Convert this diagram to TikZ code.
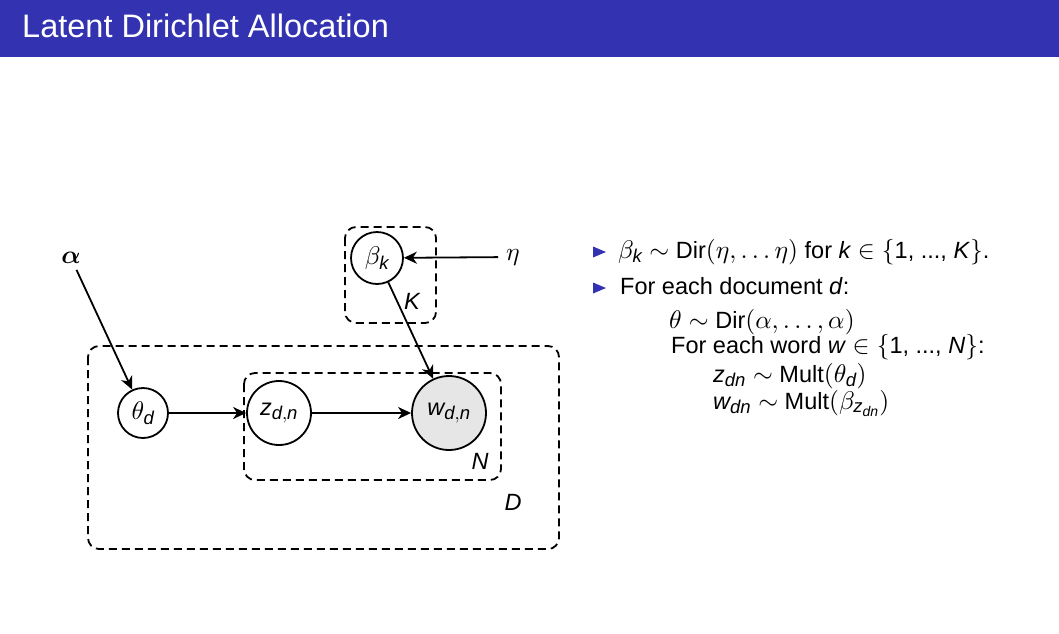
\RequirePackage{fix-cm}
\documentclass[tikz,border=0pt]{standalone}
\usepackage{amsmath}
\usepackage{bm}
\usepackage{fontspec}
\setmainfont{Liberation Sans}
\usetikzlibrary{arrows.meta}
% scalable Computer Modern math at any size
\DeclareFontShape{OML}{cmm}{m}{it}{<->cmmi10}{\skewchar\font'177}
\DeclareFontShape{OML}{cmm}{b}{it}{<->cmmib10}{\skewchar\font'177}
\DeclareFontShape{OMS}{cmsy}{m}{n}{<->cmsy10}{\skewchar\font'60}
\DeclareFontShape{OMX}{cmex}{m}{n}{<->cmex10}{}
\DeclareFontShape{OT1}{cmr}{m}{n}{<->cmr10}{}
\DeclareMathSizes{23.5}{25.5}{18.5}{14}
\definecolor{structblue}{RGB}{51,51,178}
\definecolor{obsgray}{RGB}{230,230,230}
% italic sans letters for variables inside math
\newcommand{\vi}[1]{\textit{#1}}
\tikzset{
  every node/.style={font=\fontsize{23.5}{28}\selectfont},
  latent/.style={circle, draw, line width=1.8pt, inner sep=0pt, fill=white},
  observed/.style={latent, fill=obsgray},
  plate/.style={draw, line width=1.8pt, dash pattern=on 8pt off 5pt, rounded corners=11pt},
  edge/.style={line width=1.8pt, -{Stealth[length=13pt, width=12pt, inset=4pt]}},
  platelabel/.style={font=\fontsize{23.5}{28}\selectfont\itshape},
  bodytext/.style={anchor=base west, inner sep=0pt},
  bulletmark/.style={fill=structblue, draw=none}
}
\begin{document}
\begin{tikzpicture}[x=1pt, y=-1pt]
  \useasboundingbox (0,0) rectangle (1059,633);
  \fill[white] (0,0) rectangle (1059,633);

  % title bar
  \fill[structblue] (0,0) rectangle (1059,57);
  \node[anchor=base west, inner sep=0pt, text=white, font=\fontsize{32.5}{38}\selectfont] (title) at (22,37) {Latent Dirichlet Allocation};

  % plates
  \draw[plate] (345,227) rectangle (436,323);
  \draw[plate] (244,373) rectangle (501,480);
  \draw[plate] (88,346) rectangle (559,549);
  \node[platelabel] (Klab) at (412,301) {K};
  \node[platelabel] (Nlab) at (480,461) {N};
  \node[platelabel] (Dlab) at (513,502) {D};

  % variables
  \node[latent, minimum size=50pt] (theta) at (143,413) {$\theta_{\vi{d}}$};
  \node[latent, minimum size=64pt] (z) at (279,413) {$\vi{z}_{\vi{d},\vi{n}}$};
  \node[observed, minimum size=74pt] (w) at (449,413) {$\vi{w}_{\vi{d},\vi{n}}$};
  \node[latent, minimum size=52pt] (beta) at (377,258) {$\beta_{\vi{k}}$};
  \node[inner sep=6pt] (alpha) at (71,258) {$\bm{\alpha}$};
  \node[inner sep=8pt] (eta) at (513,257) {$\eta$};

  % dependencies
  \draw[edge] (alpha) -- (theta);
  \draw[edge] (theta) -- (z);
  \draw[edge] (z) -- (w);
  \draw[edge] (eta) -- (beta);
  \draw[edge] (beta) -- (w);

  % generative process
  \fill[bulletmark] (593,246.5) -- (606,252) -- (593,257.5) -- cycle;
  \fill[bulletmark] (593,282.5) -- (606,288) -- (593,293.5) -- cycle;
  \node[bodytext] (l1) at (618,258) {$\beta_{\vi{k}} \sim$ Dir$(\eta, \ldots \eta)$ for \vi{k} $\in \{$1, ..., \vi{K}$\}$.};
  \node[bodytext] (l2) at (620,294) {For each document \vi{d}:};
  \node[bodytext] (l3) at (669,328) {$\theta \sim$ Dir$(\alpha, \ldots, \alpha)$};
  \node[bodytext] (l4) at (671,353) {For each word \vi{w} $\in \{$1, ..., \vi{N}$\}$:};
  \node[bodytext] (l5) at (713,382) {$\vi{z}_{\vi{dn}} \sim$ Mult$(\theta_{\vi{d}})$};
  \node[bodytext] (l6) at (713,409) {$\vi{w}_{\vi{dn}} \sim$ Mult$(\beta_{\vi{z}_{\vi{dn}}})$};
\end{tikzpicture}
\end{document}
